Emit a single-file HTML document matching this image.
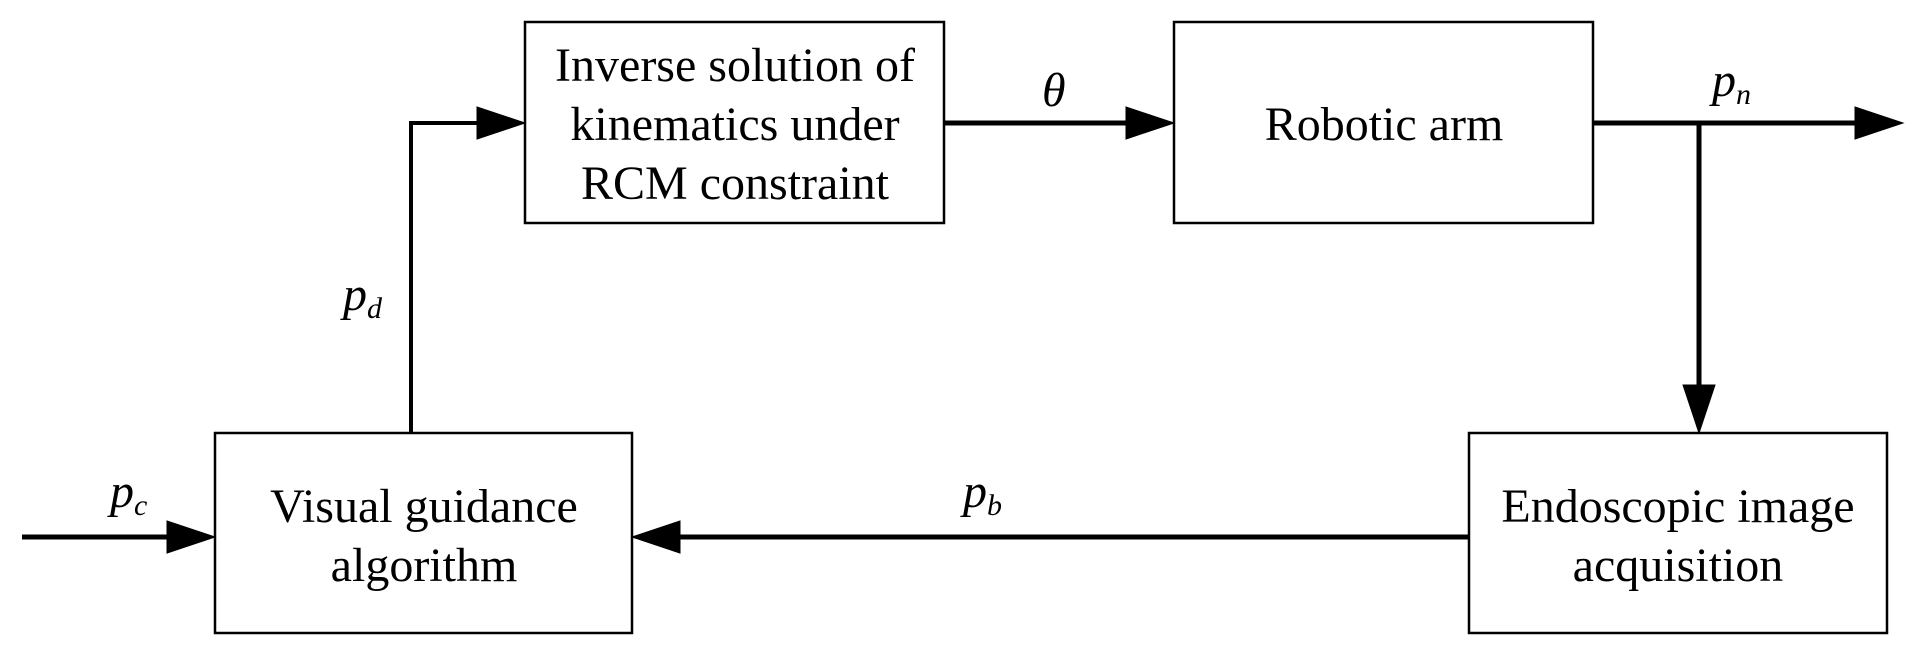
<!DOCTYPE html>
<html><head><meta charset="utf-8"><style>
html,body{margin:0;padding:0;background:#fff;}
svg{display:block;}
text{font-family:"Liberation Serif",serif;font-size:48px;fill:#000;}
.i{font-style:italic;}
</style></head><body>
<svg width="1924" height="658" viewBox="0 0 1924 658" xmlns="http://www.w3.org/2000/svg">
<defs>
<marker id="a" markerWidth="12" markerHeight="8" refX="12" refY="4" orient="auto" markerUnits="strokeWidth">
<path d="M0,0 L12,4 L0,8 Z" fill="#000"/>
</marker>
</defs>
<g fill="none" stroke="#000" stroke-width="2.5">
<rect x="525" y="22" width="419" height="201"/>
<rect x="1174" y="22" width="419" height="201"/>
<rect x="215" y="433" width="417" height="200"/>
<rect x="1469" y="433" width="418" height="200"/>
</g>
<g stroke="#000" fill="#000">
<path d="M411,433 V123 H478" stroke-width="4" fill="none"/>
<polygon points="477,107 525,123 477,139"/>
<line x1="944" y1="123" x2="1127" y2="123" stroke-width="5"/>
<polygon points="1126,107 1174,123 1126,139"/>
<line x1="1593" y1="123" x2="1856" y2="123" stroke-width="5"/>
<polygon points="1855,107 1903,123 1855,139"/>
<line x1="1699" y1="123" x2="1699" y2="386" stroke-width="5"/>
<polygon points="1683,385 1699,433 1715,385"/>
<line x1="1469" y1="537" x2="679" y2="537" stroke-width="5"/>
<polygon points="680,521 632,537 680,553"/>
<line x1="22" y1="537" x2="168" y2="537" stroke-width="5"/>
<polygon points="167,521 215,537 167,553"/>
</g>
<g text-anchor="middle">
<text x="735" y="81">Inverse solution of</text>
<text x="735" y="140">kinematics under</text>
<text x="735" y="199">RCM constraint</text>
<text x="1384" y="140">Robotic arm</text>
<text x="424" y="522">Visual guidance</text>
<text x="424" y="581">algorithm</text>
<text x="1678" y="522">Endoscopic image</text>
<text x="1678" y="581">acquisition</text>
</g>
<text class="i" x="1042" y="106" font-size="40">θ</text>
<text class="i" x="1712" y="96">p<tspan font-size="30" dy="8">n</tspan></text>
<text class="i" x="343" y="310">p<tspan font-size="30" dy="8">d</tspan></text>
<text class="i" x="110" y="507">p<tspan font-size="30" dy="8">c</tspan></text>
<text class="i" x="963" y="507">p<tspan font-size="30" dy="8">b</tspan></text>
</svg>
</body></html>
